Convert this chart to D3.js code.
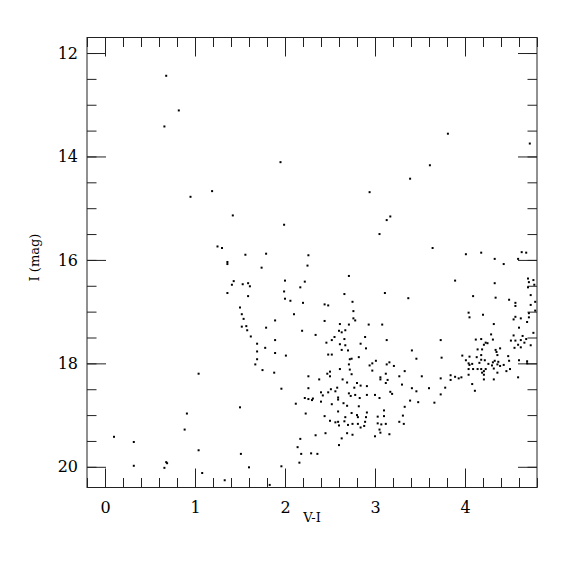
<!DOCTYPE html>
<html>
<head>
<meta charset="utf-8">
<script src="https://cdn.jsdelivr.net/npm/d3@7"></script>
<style>
  body { margin: 0; background: #fff; }
  svg { display: block; }
  .axis text { font-family: 'DejaVu Serif', serif; font-size: 16px; fill: #000; }
  .axis line { stroke: #222; }
  .title { font-family: 'DejaVu Serif', serif; font-size: 13px; fill: #000; }
</style>
</head>
<body>
<svg width="575" height="575"></svg>
<script>
(function() {
  'use strict';

  // V-I colour, I magnitude
  const stars = [
    [0.68, 12.44], [0.82, 13.11], [0.66, 13.42], [1.95, 14.11],
    [3.81, 13.56], [4.72, 13.75], [3.61, 14.17], [3.39, 14.43],
    [1.19, 14.67], [0.95, 14.78], [1.42, 15.14], [1.25, 15.74], [1.30, 15.77],
    [1.36, 16.04], [1.36, 16.08], [1.43, 16.41], [1.41, 16.48], [1.36, 16.64],
    [2.94, 14.69], [3.13, 15.23], [3.05, 15.50], [1.99, 15.32], [1.56, 15.90],
    [1.79, 15.88], [2.26, 15.91], [1.74, 16.15], [2.25, 16.11], [2.71, 16.31],
    [1.53, 16.47], [1.59, 16.45], [1.61, 16.51], [2.00, 16.40], [2.22, 16.42],
    [2.17, 16.53], [1.59, 16.70], [1.99, 16.61], [2.00, 16.75], [2.06, 16.79],
    [2.20, 16.83], [2.66, 16.66], [3.11, 16.64], [1.50, 16.92], [2.44, 16.86],
    [2.48, 16.88], [2.75, 16.81], [1.52, 17.05], [2.10, 17.05], [1.54, 17.14],
    [2.76, 16.99], [2.76, 17.13], [2.78, 17.17], [1.89, 17.17], [2.44, 17.18],
    [2.61, 17.24], [2.71, 17.25], [2.93, 17.25], [3.08, 17.25], [1.52, 17.29],
    [1.57, 17.28], [1.58, 17.36], [1.79, 17.31], [2.19, 17.37], [2.60, 17.37],
    [2.63, 17.40], [2.67, 17.36], [2.34, 17.45], [1.62, 17.48], [2.55, 17.49],
    [2.89, 17.49],
    [3.17, 15.16], [3.64, 15.77], [4.01, 15.89], [4.18, 15.86], [4.33, 15.98],
    [4.43, 16.08], [4.63, 15.85], [4.68, 15.86], [4.59, 15.98], [3.89, 16.40],
    [4.33, 16.45], [4.70, 16.36], [4.76, 16.39], [4.71, 16.43], [4.70, 16.53],
    [4.77, 16.48], [3.37, 16.74], [4.09, 16.70], [4.34, 16.73], [4.49, 16.77],
    [4.73, 16.68], [4.56, 16.83], [4.56, 16.89], [4.78, 16.81], [4.73, 16.87],
    [4.78, 16.98], [4.71, 17.03], [4.04, 17.02], [4.05, 17.11], [4.20, 17.06],
    [4.56, 17.10], [4.54, 17.15], [4.62, 17.13], [4.71, 17.11], [4.69, 17.20],
    [4.32, 17.24], [4.60, 17.31], [4.76, 17.41], [4.29, 17.44], [4.54, 17.46],
    [4.64, 17.47],
    [1.04, 18.20], [0.91, 18.97], [0.885, 19.28], [0.10, 19.42], [0.32, 19.52],
    [1.04, 19.68], [0.32, 19.98], [0.68, 19.91], [0.69, 19.93], [0.66, 20.02],
    [1.08, 20.12], [1.33, 20.26],
    [1.50, 18.85], [1.51, 19.75], [1.60, 20.01], [1.83, 20.35], [1.96, 19.99],
    [1.89, 17.55], [1.69, 17.62], [1.78, 17.70], [1.69, 17.77], [1.89, 17.80],
    [2.01, 17.85], [1.69, 17.92], [1.67, 18.02], [1.75, 18.13], [1.88, 18.18],
    [1.96, 18.49], [2.12, 18.78], [2.23, 18.97], [2.22, 18.67], [2.26, 18.69],
    [2.30, 18.71], [2.31, 18.68], [2.26, 18.48], [2.26, 18.25], [2.38, 18.31],
    [2.40, 18.74], [2.40, 18.56], [2.42, 18.62], [2.46, 17.60], [2.52, 17.55],
    [2.66, 17.53], [2.61, 17.63], [2.67, 17.65], [2.63, 17.74], [2.70, 17.75],
    [2.84, 17.62], [2.90, 17.71], [2.48, 17.83], [2.52, 17.83], [2.72, 17.92],
    [2.74, 17.91], [2.82, 17.88], [2.71, 18.02], [2.61, 18.11], [2.72, 18.12],
    [2.74, 18.21], [2.47, 18.20], [2.50, 18.16], [2.50, 18.25], [2.64, 18.31],
    [2.69, 18.37], [2.80, 18.38], [2.84, 18.43], [2.91, 18.44], [2.77, 18.47],
    [2.51, 18.50], [2.58, 18.47], [2.56, 18.54], [2.48, 18.56], [2.71, 18.58],
    [2.73, 18.63], [2.78, 18.61], [2.83, 18.67], [2.91, 18.61], [2.59, 18.66],
    [2.59, 18.70], [2.65, 18.77], [2.52, 18.79], [2.69, 18.82], [2.82, 18.83],
    [2.59, 18.93], [2.74, 18.96], [2.80, 19.00], [2.91, 18.95], [2.67, 19.04],
    [2.81, 19.04], [2.90, 19.04], [2.44, 19.02], [2.50, 19.11], [2.56, 19.14],
    [2.59, 19.13], [2.60, 19.20], [2.66, 19.12], [2.70, 19.19], [2.75, 19.17],
    [2.81, 19.17], [2.84, 19.24], [2.88, 19.21], [2.89, 19.13], [2.34, 19.39],
    [2.45, 19.35], [2.69, 19.35], [2.75, 19.38], [2.63, 19.45], [2.60, 19.58],
    [2.17, 19.46], [2.14, 19.62], [2.18, 19.75], [2.29, 19.74], [2.36, 19.75],
    [2.16, 19.92],
    [3.01, 17.95], [2.97, 18.00], [2.94, 18.04], [2.97, 18.14], [3.12, 18.20],
    [3.06, 18.27], [3.06, 18.31], [3.12, 18.38], [3.00, 18.61], [3.05, 18.67],
    [3.10, 18.91], [3.03, 19.03], [3.10, 19.02], [3.03, 19.16], [3.07, 19.18],
    [3.12, 19.17], [3.05, 19.28], [3.06, 19.34], [3.00, 19.41], [3.13, 18.02],
    [3.13, 17.55], [3.73, 17.55], [3.41, 17.75], [3.46, 17.91], [3.16, 17.98],
    [3.21, 18.05], [3.27, 18.25], [3.33, 18.15], [3.14, 18.32], [3.30, 18.41],
    [3.52, 18.25], [3.74, 17.89], [3.73, 18.29], [3.73, 18.60], [3.17, 18.55],
    [3.19, 18.59], [3.41, 18.48], [3.46, 18.54], [3.60, 18.48], [3.33, 18.84],
    [3.39, 18.72], [3.48, 18.75], [3.66, 18.76], [3.78, 18.47], [3.84, 18.23],
    [3.84, 18.32], [3.89, 18.26], [3.93, 18.29], [3.96, 18.27], [3.31, 19.01],
    [3.27, 19.13], [3.32, 19.17], [3.16, 19.37],
    [4.12, 17.54], [4.18, 17.53], [4.23, 17.60], [4.21, 17.64], [4.25, 17.61],
    [4.31, 17.54], [4.14, 17.73], [4.19, 17.73], [4.34, 17.74], [4.35, 17.78],
    [4.39, 17.71], [4.36, 17.84], [3.97, 17.85], [4.01, 17.94], [4.05, 17.87],
    [4.13, 17.88], [4.18, 17.84], [4.18, 17.93], [4.22, 17.94], [4.16, 17.99],
    [4.04, 18.00], [4.08, 18.01], [4.05, 18.03], [4.09, 18.11], [4.04, 18.11],
    [4.26, 18.01], [4.31, 17.98], [4.33, 17.95], [4.36, 18.02], [4.30, 18.04],
    [4.37, 17.97], [4.39, 18.05], [4.43, 18.03], [4.48, 17.86], [4.49, 17.95],
    [4.23, 18.11], [4.18, 18.11], [4.14, 18.11], [4.21, 18.15], [4.19, 18.18],
    [4.21, 18.22], [4.36, 18.18], [4.32, 18.10], [4.50, 18.11], [4.46, 18.15],
    [4.04, 18.22], [4.21, 18.31], [4.32, 18.31], [4.08, 18.40], [4.11, 18.53],
    [4.51, 17.56], [4.56, 17.56], [4.59, 17.64], [4.62, 17.55], [4.66, 17.60],
    [4.68, 17.53], [4.55, 17.70], [4.62, 17.69], [4.73, 17.65], [4.60, 17.94],
    [4.69, 17.96], [4.69, 18.00], [4.59, 18.27],
  ];

  const xMajor = [0, 1, 2, 3, 4];
  const xMinor = d3.range(-0.2, 4.81, 0.2).map((v) => +v.toFixed(1));
  const yMajor = [12, 14, 16, 18, 20];
  const yMinor = d3.range(12, 20.41, 0.5);

  const margin = {top: 37.5, right: 38, bottom: 87.5, left: 87};
  const svg = d3.select('svg');
  const width = +svg.attr('width') - margin.left - margin.right;
  const height = +svg.attr('height') - margin.top - margin.bottom;

  const g = svg.append('g')
      .attr('transform', 'translate(' + margin.left + ',' + margin.top + ')');

  const x = d3.scaleLinear().domain([-0.2, 4.8]).range([0, width]);
  const y = d3.scaleLinear().domain([11.7, 20.4]).range([0, height]);

  const big = 19;
  const small = 9.5;

  const addAxis = (axis, transform, ticks, size, labels) => {
    const a = g.append('g')
        .attr('class', 'axis')
        .attr('transform', transform)
        .call(axis.tickValues(ticks)
            .tickSizeInner(-size)
            .tickSizeOuter(0)
            .tickPadding(labels ? (axis === xb ? 14 : 9) : 0)
            .tickFormat(labels ? d3.format('d') : ''));
    a.select('.domain').remove();
    return a;
  };

  const xb = d3.axisBottom(x);
  addAxis(d3.axisBottom(x), 'translate(0,' + height + ')', xMinor, small, false);
  addAxis(xb, 'translate(0,' + height + ')', xMajor, big, true);
  addAxis(d3.axisTop(x), null, xMinor, small, false);
  addAxis(d3.axisTop(x), null, xMajor, big, false);
  addAxis(d3.axisLeft(y), null, yMinor, small, false);
  addAxis(d3.axisLeft(y), null, yMajor, big, true);
  addAxis(d3.axisRight(y), 'translate(' + width + ',0)', yMinor, small, false);
  addAxis(d3.axisRight(y), 'translate(' + width + ',0)', yMajor, big, false);

  g.append('rect')
      .attr('width', width)
      .attr('height', height)
      .attr('fill', 'none')
      .attr('stroke', '#222');

  g.append('g')
      .selectAll('rect')
      .data(stars)
      .join('rect')
      .attr('x', (d) => x(d[0]) - 1)
      .attr('y', (d) => y(d[1]) - 1)
      .attr('width', 2)
      .attr('height', 2)
      .attr('fill', '#000');

  g.append('text')
      .attr('class', 'title')
      .attr('x', width / 2)
      .attr('y', height + 34)
      .attr('text-anchor', 'middle')
      .text('V-I');

  g.append('text')
      .attr('class', 'title')
      .attr('transform', 'translate(' + (-48) + ',' + (height / 2 - 5) + ') rotate(-90)')
      .attr('text-anchor', 'middle')
      .text('I (mag)');
})();
</script>
</body>
</html>
